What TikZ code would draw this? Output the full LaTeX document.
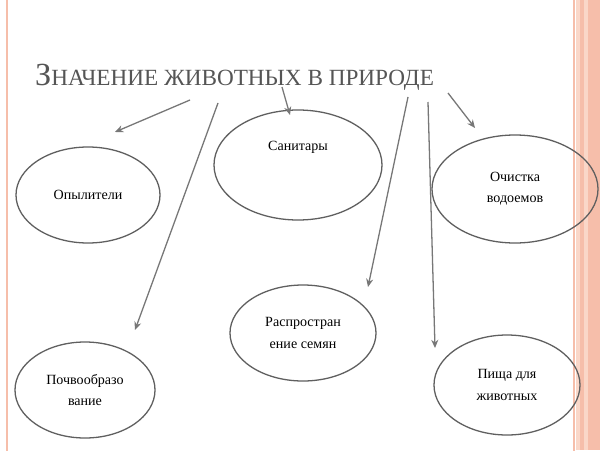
\documentclass[tikz,border=0pt]{standalone}
\usepackage{fontspec}
\setmainfont{Liberation Serif}
\usetikzlibrary{shapes.geometric,arrows.meta}
\definecolor{stripe}{RGB}{246,190,170}
\definecolor{stripeb}{RGB}{250,215,200}
\definecolor{ttl}{RGB}{85,85,85}
\definecolor{edge}{RGB}{95,95,95}
\tikzset{
  px/.style={x=0.03cm,y=-0.03cm},
  oval/.style={ellipse,draw=edge,line width=1.1pt,inner sep=0pt,align=center,font=\fontsize{12}{18}\selectfont},
  arr/.style={draw=edge!85,line width=1.1pt,-{Stealth[length=7pt,width=6pt]}}
}
\begin{document}
\begin{tikzpicture}[px]
\useasboundingbox (0,0) rectangle (600,450);
\fill[white] (0,0) rectangle (600,450);
\fill[stripeb] (576,0) rectangle (600,450);
\fill[stripe] (580,0) rectangle (584,450);
\fill[stripe] (588,0) rectangle (600,450);
\draw[stripe,line width=1pt] (7,-5) -- (7,455);
\draw[stripe,line width=1pt] (574,-5) -- (574,455);
\node[anchor=base west,text=ttl,inner sep=0pt] (title) at (35,85)
  {\fontsize{27.5}{30}\selectfont З\fontsize{19.8}{22}\selectfont НАЧЕНИЕ ЖИВОТНЫХ В ПРИРОДЕ};
\node[oval,minimum width=4.32cm,minimum height=2.88cm] (o1) at (88,195) {Опылители};
\node[oval,minimum width=5.04cm,minimum height=3.3cm] (o2) at (298,165) {Санитары\\[14pt]};
\node[oval,minimum width=4.98cm,minimum height=3.24cm] (o3) at (515,189) {Очистка\\водоемов};
\node[oval,minimum width=4.38cm,minimum height=2.88cm] (o4) at (303,333) {Распростран\\ение семян};
\node[oval,minimum width=4.2cm,minimum height=2.88cm] (o5) at (85,390) {Почвообразо\\вание};
\node[oval,minimum width=4.38cm,minimum height=3.0cm] (o6) at (507,385) {Пища для\\животных};
\coordinate (s1) at (190,100); \coordinate (e1) at (115,132);
\coordinate (s2) at (218,103); \coordinate (e2) at (135,330);
\coordinate (s3) at (282,87);  \coordinate (e3) at (290,115);
\coordinate (s4) at (408,97);  \coordinate (e4) at (368,287);
\coordinate (s5) at (428,102); \coordinate (e5) at (435,348);
\coordinate (s6) at (448,93);  \coordinate (e6) at (475,128);
\foreach \i in {1,...,6} \draw[arr] (s\i) -- (e\i);
\end{tikzpicture}
\end{document}
